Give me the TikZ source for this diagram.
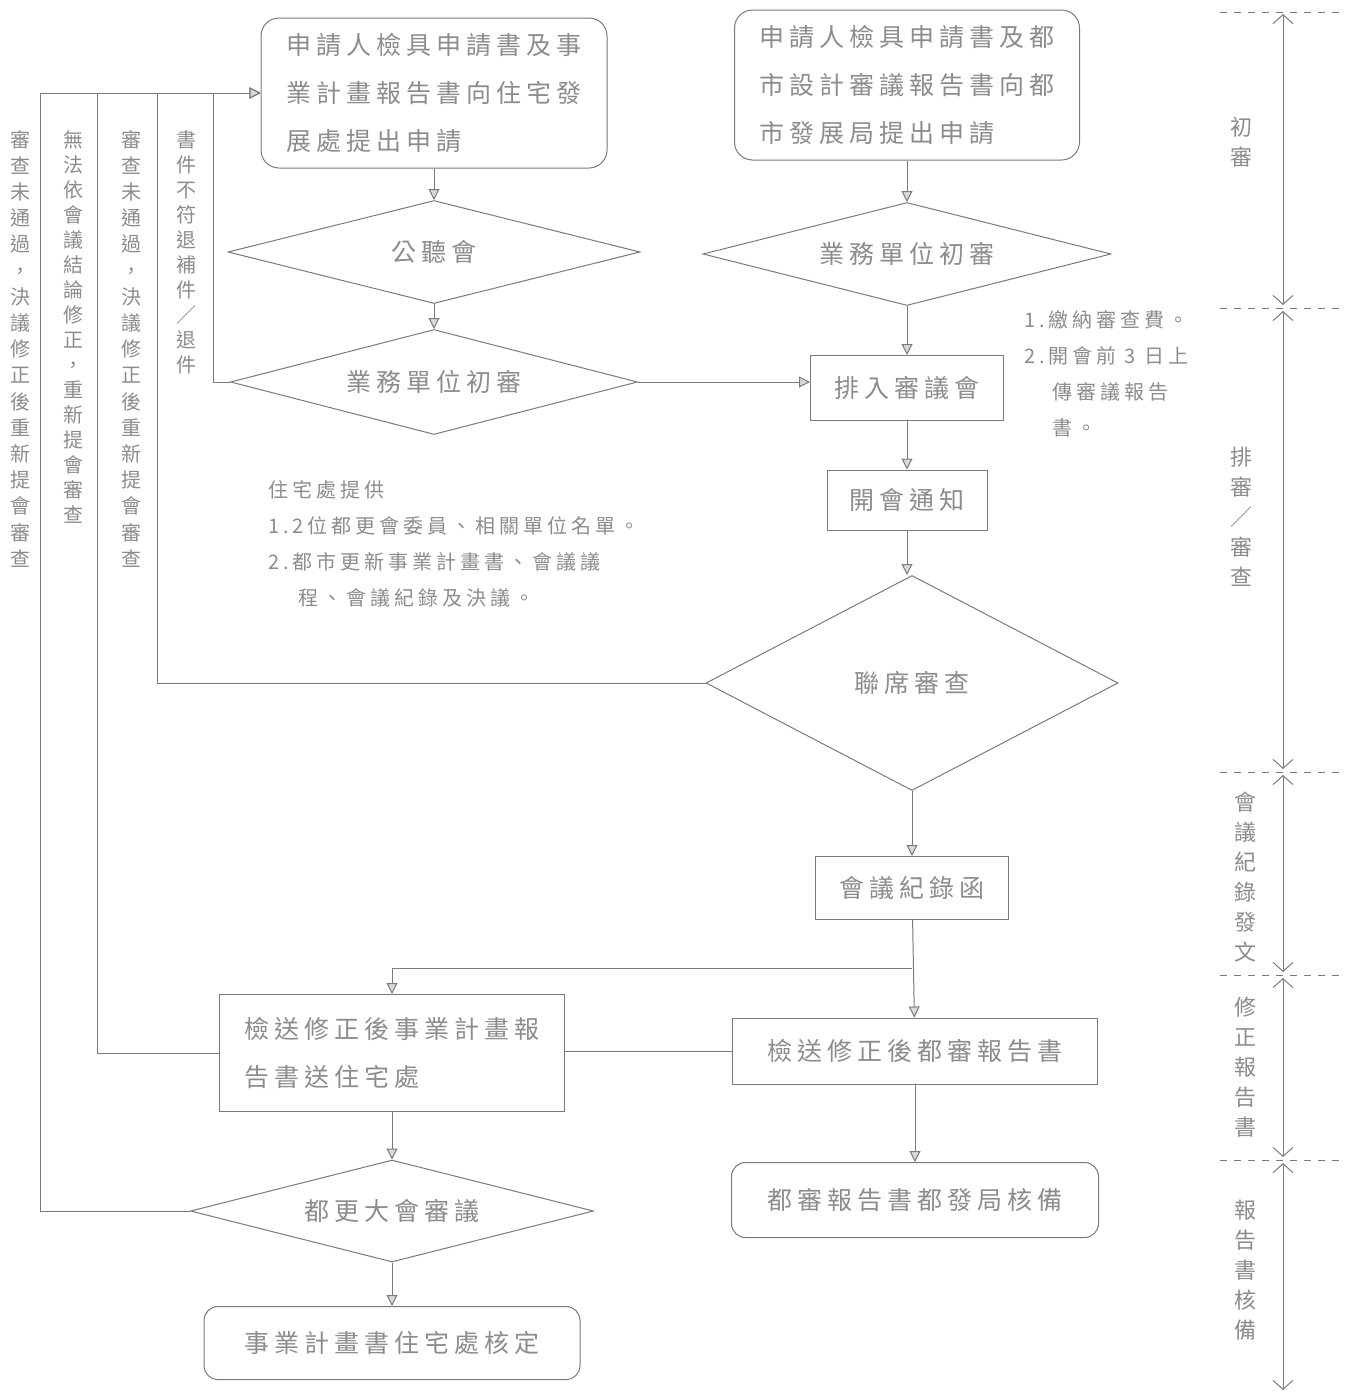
\documentclass[tikz,border=0pt]{standalone}
\usepackage{fontspec}
\setmainfont{Noto Sans CJK TC}[LetterSpace=20]
\usetikzlibrary{shapes.geometric,arrows.meta}
\definecolor{ln}{HTML}{7A7A7A}
\definecolor{tx}{HTML}{8C8C8C}
\begin{document}
\begin{tikzpicture}[x=1pt,y=-1pt,
  every node/.style={text=tx, inner sep=0pt},
  big/.style={font=\fontsize{25}{48}\selectfont},
  rbox/.style={draw=ln, line width=1pt, rounded corners=18pt, big},
  sbox/.style={draw=ln, line width=1pt, big},
  dia/.style={draw=ln, line width=1pt, diamond, shape aspect=4, big},
  arr/.style={draw=ln, line width=1pt, -{Triangle[length=11pt,width=11pt,fill=gray!30]}},
  con/.style={draw=ln, line width=1pt},
  vtxt/.style={font=\fontsize{20}{25}\selectfont, align=center},
  vtxtw/.style={font=\fontsize{20}{26.2}\selectfont, align=center},
  note/.style={font=\fontsize{20}{36}\selectfont, align=left},
  lab/.style={font=\fontsize{22}{30}\selectfont, align=center},
  sep/.style={draw=ln, line width=1pt, dash pattern=on 7pt off 7pt},
  tl/.style={draw=ln, line width=1pt, {Straight Barb[length=9pt,width=20pt]}-{Straight Barb[length=9pt,width=20pt]}}
]
\useasboundingbox (0,0) rectangle (1354,1395);

% main nodes
\node[rbox, minimum width=346pt, minimum height=150pt, align=left] (A) at (434,93)
  {申請人檢具申請書及事\\業計畫報告書向住宅發\\展處提出申請};
\node[rbox, minimum width=345pt, minimum height=150pt, align=left] (B) at (907,85)
  {申請人檢具申請書及都\\市設計審議報告書向都\\市發展局提出申請};
\node[dia, minimum width=412pt, minimum height=103pt] (gong) at (434,252) {公聽會};
\node[dia, minimum width=407pt, minimum height=105pt] (chuL) at (434,382) {業務單位初審};
\node[dia, minimum width=408pt, minimum height=103pt] (chuR) at (907,254) {業務單位初審};
\node[sbox, minimum width=193pt, minimum height=65pt] (pai) at (907,388) {排入審議會};
\node[sbox, minimum width=160pt, minimum height=60pt] (kai) at (907,500) {開會通知};
\node[dia, shape aspect=2, minimum width=412pt, minimum height=215pt] (lian) at (912,683) {聯席審查};
\node[sbox, minimum width=193pt, minimum height=63pt] (rec) at (912,888) {會議紀錄函};
\node[sbox, minimum width=345pt, minimum height=117pt, align=left] (revA) at (392,1053)
  {檢送修正後事業計畫報\\告書送住宅處};
\node[sbox, minimum width=365pt, minimum height=66pt] (revB) at (915,1051) {檢送修正後都審報告書};
\node[rbox, rounded corners=14pt, minimum width=367pt, minimum height=75pt] (hb) at (915,1200) {都審報告書都發局核備};
\node[dia, minimum width=403pt, minimum height=102pt] (du) at (392,1211) {都更大會審議};
\node[rbox, rounded corners=14pt, minimum width=376pt, minimum height=73pt] (hd) at (392,1343) {事業計畫書住宅處核定};

% notes
\node[note, anchor=north west] (n1) at (268,480)
  {住宅處提供\\1.\,2位都更會委員、相關單位名單。\\2.\,都市更新事業計畫書、會議議\\\hspace*{30pt}程、會議紀錄及決議。};
\node[note, anchor=north west] (n2) at (1024,310)
  {1.\,繳納審查費。\\2.\,開會前 3 日上\\\hspace*{28pt}傳審議報告\\\hspace*{28pt}書。};

% vertical loop labels
\node[vtxtw, anchor=north] (v1) at (20,130) {審\\查\\未\\通\\過\\，\\決\\議\\修\\正\\後\\重\\新\\提\\會\\審\\查};
\node[vtxt, anchor=north] (v2) at (73,130) {無\\法\\依\\會\\議\\結\\論\\修\\正\\，\\重\\新\\提\\會\\審\\查};
\node[vtxtw, anchor=north] (v3) at (131,130) {審\\查\\未\\通\\過\\，\\決\\議\\修\\正\\後\\重\\新\\提\\會\\審\\查};
\node[vtxt, anchor=north] (v4) at (186,130) {書\\件\\不\\符\\退\\補\\件\\／\\退\\件};

% connectors
\draw[arr] (A) -- (gong);
\draw[arr] (gong) -- (chuL);
\draw[arr] (chuL.east) -- (pai.west |- chuL.east);
\draw[arr] (B) -- (chuR);
\draw[arr] (chuR) -- (pai);
\draw[arr] (pai) -- (kai);
\draw[arr] (kai.south) -- (kai.south |- lian.north);
\draw[arr] (lian) -- (rec);
\draw[arr] (rec) -- (revB);
\coordinate (br) at (912,968);
\draw[arr] (br) -| (revA.north);
\draw[con] (revA.east |- revB.west) -- (revB.west);
\draw[arr] (revB) -- (hb);
\draw[arr] (revA) -- (du);
\draw[arr] (du) -- (hd);

% loops back to A
\coordinate (x1) at (40,0);
\coordinate (x2) at (97,0);
\coordinate (x3) at (157,0);
\coordinate (x4) at (213,0);
\draw[arr] (du.west) -- (du.west -| x1) |- (A.west);
\draw[arr] (revA.west) -- (revA.west -| x2) |- (A.west);
\draw[arr] (lian.west) -- (lian.west -| x3) |- (A.west);
\draw[arr] (chuL.west) -- (chuL.west -| x4) |- (A.west);

% timeline
\foreach \y/\n in {12/s0,308/s1,772/s2,975/s3,1160/s4}{
  \coordinate (\n a) at (1220,\y);
  \coordinate (\n b) at (1340,\y);
  \draw[sep] (\n a) -- (\n b);
}
\coordinate (e0) at (1283,14);
\coordinate (e1a) at (1283,305);
\coordinate (e1b) at (1283,311);
\coordinate (e2a) at (1283,769);
\coordinate (e2b) at (1283,775);
\coordinate (e3a) at (1283,972);
\coordinate (e3b) at (1283,978);
\coordinate (e4a) at (1283,1157);
\coordinate (e4b) at (1283,1163);
\coordinate (e5) at (1283,1390);
\draw[tl] (e0) -- (e1a);
\draw[tl] (e1b) -- (e2a);
\draw[tl] (e2b) -- (e3a);
\draw[tl] (e3b) -- (e4a);
\draw[tl] (e4b) -- (e5);
\node[lab] (L1) at (1241,142) {初\\審};
\node[lab] (L2) at (1241,517) {排\\審\\／\\審\\查};
\node[lab] (L3) at (1245,877) {會\\議\\紀\\錄\\發\\文};
\node[lab] (L4) at (1245,1067) {修\\正\\報\\告\\書};
\node[lab] (L5) at (1245,1270) {報\\告\\書\\核\\備};
\end{tikzpicture}
\end{document}
